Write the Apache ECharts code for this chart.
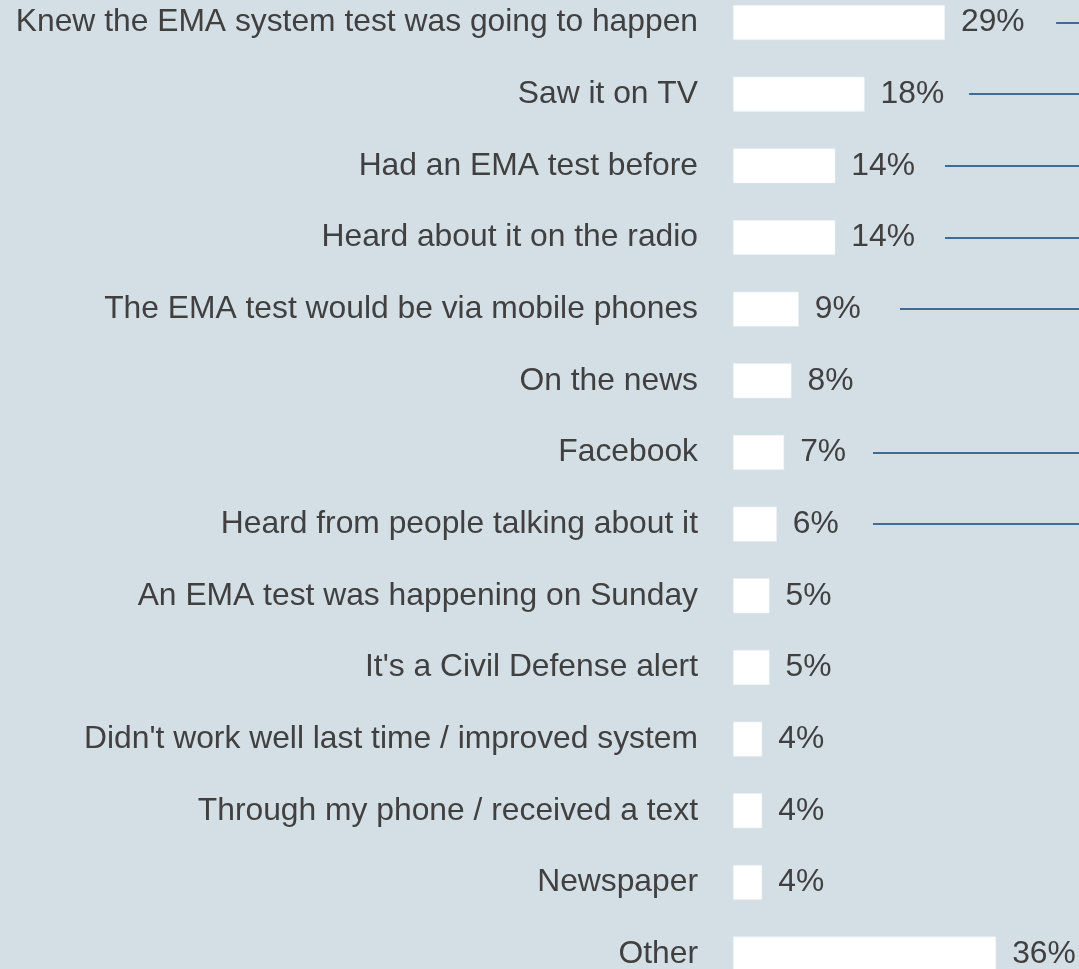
<!DOCTYPE html>
<html>
<head>
<meta charset="utf-8">
<script src="https://cdn.jsdelivr.net/npm/echarts@6/dist/echarts.min.js"></script>
<style>
  html, body { margin: 0; padding: 0; background: #d3dee5; }
  #chart { width: 1079px; height: 969px; }
</style>
</head>
<body>
<div id="chart"></div>
<script>
// Reasons given for knowing about the EMA alert test (% of respondents)
const categories = [
  "Knew the EMA system test was going to happen",
  "Saw it on TV",
  "Had an EMA test before",
  "Heard about it on the radio",
  "The EMA test would be via mobile phones",
  "On the news",
  "Facebook",
  "Heard from people talking about it",
  "An EMA test was happening on Sunday",
  "It's a Civil Defense alert",
  "Didn't work well last time / improved system",
  "Through my phone / received a text",
  "Newspaper",
  "Other"
];
const percentages = [29, 18, 14, 14, 9, 8, 7, 6, 5, 5, 4, 4, 4, 36];

// Connector rules running off to the right, starting at these axis values (null = none)
const connectorFrom = [44.2, 32.3, 29.0, 29.0, 22.85, null, 19.15, 19.15, null, null, null, null, null, null];
const connectorTo = 50;

const FONT = "'Liberation Sans', Arial, sans-serif";
const TEXT = '#404040';

const connectorLines = [];
categories.forEach((c, i) => {
  if (connectorFrom[i] != null) {
    connectorLines.push([{ coord: [connectorFrom[i], c] }, { coord: [connectorTo, c] }]);
  }
});

const chart = echarts.init(document.getElementById('chart'));
chart.setOption({
  backgroundColor: '#d3dee5',
  animation: false,
  grid: {
    left: 733, top: -13.3, width: 365.5, height: 1003.2,
    outerBoundsMode: 'none',
    containLabel: false
  },
  xAxis: {
    type: 'value', min: 0, max: 50,
    show: false,
    splitLine: { show: false }
  },
  yAxis: {
    type: 'category',
    data: categories,
    inverse: true,
    axisLine: { show: false },
    axisTick: { show: false },
    axisLabel: {
      margin: 35,
      fontSize: 31.8,
      fontFamily: FONT,
      color: TEXT
    }
  },
  series: [{
    type: 'bar',
    data: percentages,
    barWidth: 35,
    itemStyle: { color: '#ffffff', borderColor: '#e9eef2', borderWidth: 0.6 },
    label: {
      show: true,
      position: 'right',
      distance: 16,
      formatter: '{c}%',
      fontSize: 31.8,
      fontFamily: FONT,
      color: TEXT
    },
    markLine: {
      silent: true,
      symbol: 'none',
      label: { show: false },
      lineStyle: { color: '#0f4478', width: 1.5, type: 'solid' },
      data: connectorLines
    }
  }]
});
</script>
</body>
</html>
